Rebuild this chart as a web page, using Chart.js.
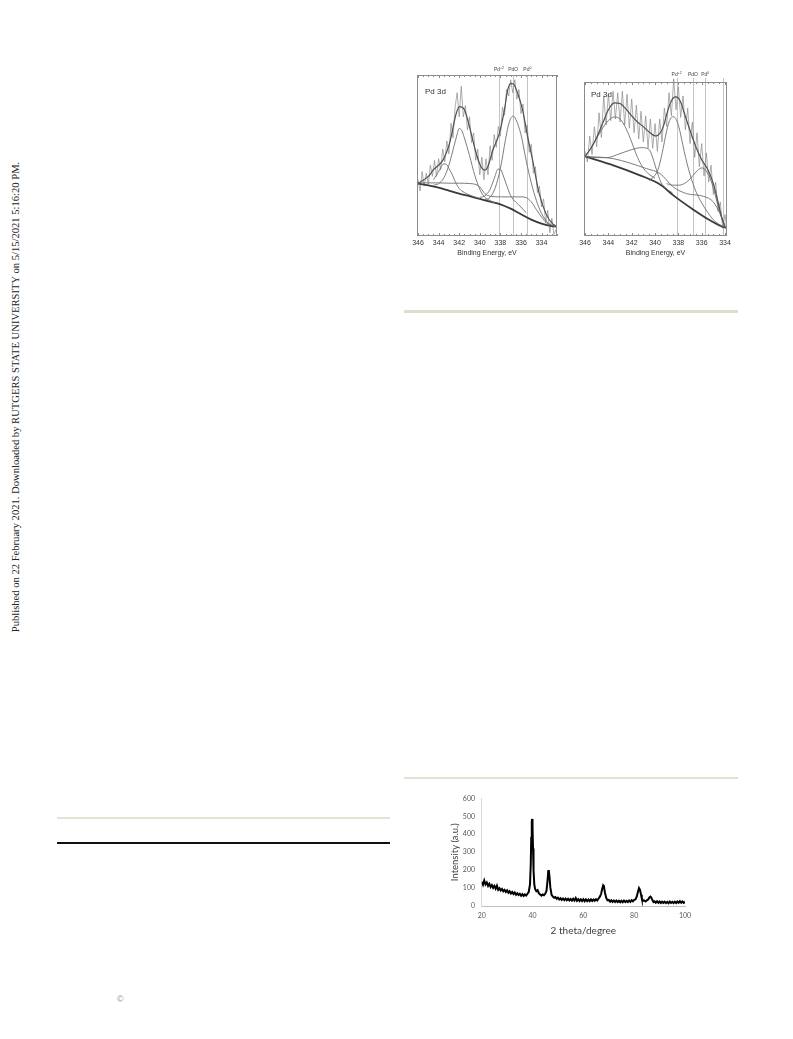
<!DOCTYPE html>
<html><head><meta charset="utf-8">
<script src="https://cdn.jsdelivr.net/npm/chart.js@4.4.0/dist/chart.umd.min.js"></script>
<style>
html,body{margin:0;padding:0;background:#fff;}
body{width:793px;height:1039px;position:relative;overflow:hidden;}
canvas{position:absolute;}
.rule{position:absolute;}
#side{position:absolute;left:15px;top:397px;transform:translate(-50%,-50%) rotate(-90deg);white-space:nowrap;font-family:"Liberation Serif","Times New Roman",serif;font-size:10.6px;color:#222;}
#copy{position:absolute;left:117px;top:994px;font-family:"Liberation Sans",Arial,sans-serif;font-size:9px;color:#999;}
</style></head>
<body>
<div id="side">Published on 22 February 2021. Downloaded by RUTGERS STATE UNIVERSITY on 5/15/2021 5:16:20 PM.</div>
<div class="rule" style="left:404px;top:310px;width:334px;height:2.5px;background:#e0decb"></div>
<div class="rule" style="left:404px;top:776.5px;width:334px;height:2.5px;background:#e3e1cf"></div>
<div class="rule" style="left:57px;top:816.7px;width:333px;height:2.6px;background:#e6e3d2"></div>
<div class="rule" style="left:57px;top:841.7px;width:333px;height:2px;background:#111"></div>
<div id="copy">©</div>
<canvas id="xps1" width="170" height="198" style="left:400px;top:60px"></canvas>
<canvas id="xps2" width="170" height="198" style="left:570px;top:60px"></canvas>
<canvas id="xrd" width="260" height="160" style="left:440px;top:785px"></canvas>
<script>
// ---------- shared ----------
const xpsTicks = [346, 344, 342, 340, 338, 336, 334];
const refLabelMain = ['Pd', 'PdO', 'Pd'];
const refLabelSup = ['+2', '', '0'];

// ---------- XPS panel 1 ----------
const xps1RawBE = [346.0,345.8,345.6,345.4,345.2,345.0,344.8,344.6,344.4,344.2,344.0,343.8,343.6,343.4,343.2,343.0,342.8,342.6,342.4,342.2,342.0,341.8,341.6,341.4,341.2,341.0,340.8,340.6,340.4,340.2,340.0,339.8,339.6,339.4,339.2,339.0,338.8,338.6,338.4,338.2,338.0,337.8,337.6,337.4,337.2,337.0,336.8,336.6,336.4,336.2,336.0,335.8,335.6,335.4,335.2,335.0,334.8,334.6,334.4,334.2,334.0,333.8,333.6,333.4,333.2,333.0,332.8,332.6];
const xps1RawI = [35,28,40,31,39,32,44,37,47,37,48,41,54,46,59,51,70,61,80,89,74,93,74,81,66,74,58,64,47,54,38,49,35,48,38,56,47,63,55,68,62,80,75,91,87,97,89,97,85,91,76,82,64,69,52,57,39,43,27,31,18,23,8,16,2,11,1,4];
const xps1EnvBE = [346.0,344.87,344.55,343.58,342.94,342.29,341.97,341.48,341.0,340.52,340.03,339.55,339.23,338.74,338.1,337.61,337.29,336.97,336.65,336.32,335.84,335.35,334.87,334.23,333.58,332.94,332.61];
const xps1EnvI = [32.6,37.8,40.9,47.1,57.5,76.1,80.3,78.2,67.8,55.4,45.0,40.9,42.9,53.3,63.7,78.2,90.7,94.8,93.8,88.6,78.2,61.6,47.1,26.3,13.9,7.7,6.2];
const xps1BgBE = [346,345,344,343,342,341,340,339,338,337,336,335,334,333,332.6];
const xps1BgI = [32.6,31.5,30.1,28.2,26.3,24.7,23.0,21.4,19.7,17.0,13.5,10.2,7.7,6.2,5.8];
const xps1StepBE = [346,345,344,343,342,341,340.5,340,339.5,339,338,337,336,335.5,335,334.5,334,333.5,333,332.6];
const xps1StepI = [33.0,33.0,33.0,32.8,32.8,32.6,32.2,30.5,26.3,24.7,24.3,24.3,24.3,23.9,21.2,16.4,11.8,8.1,6.6,6.0];
const xps1P1BE = [344.5,344.25,344.0,343.75,343.5,343.25,343.0,342.75,342.5,342.25,342.0,341.5,341.0,340.5,340.0];
const xps1P1I = [35,37.5,40,43,44.8,44.5,42,39,35.5,32,29.5,27,25.5,24.3,23.3];
const xps1P2BE = [344.5,344,343.5,343,342.5,342.25,342,341.75,341.5,341,340.5,340,339.5,339,338.5];
const xps1P2I = [31.5,32.5,36,44,56,62,66.8,65.5,61,50,38,29,24,22,20.5];
const xps1P3BE = [340,339.5,339,338.75,338.5,338.25,338,337.75,337.5,337.25,337,336.5,336,335.5];
const xps1P3I = [24,25,29,33,37.5,41.5,41.5,38,33.5,29,25,21,18,14.5];
const xps1P4BE = [339.5,339,338.5,338,337.5,337.25,337,336.75,336.5,336,335.5,335,334.5,334,333.5,333];
const xps1P4I = [22.5,24,30,42,60,68,73,74.5,72.5,63,47,33,22,14,9,6.6];
const xps1RefBE = [338.14, 336.75, 335.38];

// ---------- XPS panel 2 ----------
const xps2RawBE = [346.0,345.8,345.6,345.4,345.2,345.0,344.8,344.6,344.4,344.2,344.0,343.8,343.6,343.4,343.2,343.0,342.8,342.6,342.4,342.2,342.0,341.8,341.6,341.4,341.2,341.0,340.8,340.6,340.4,340.2,340.0,339.8,339.6,339.4,339.2,339.0,338.8,338.6,338.4,338.2,338.0,337.8,337.6,337.4,337.2,337.0,336.8,336.6,336.4,336.2,336.0,335.8,335.6,335.4,335.2,335.0,334.8,334.6,334.4,334.2,334.0,333.8];
const xps2RawI = [55,48,65,53,71,58,80,64,91,72,92,75,94,76,93,74,94,72,92,70,89,67,85,63,81,61,78,57,76,57,73,55,76,61,83,71,93,78,102,82,97,77,91,69,83,60,74,51,67,45,60,39,54,35,46,27,35,16,22,5,14,2];
const xps2EnvBE = [346,345.5,345,344.5,344,343.5,343,342.5,342,341.5,341,340.5,340,339.75,339.5,339.25,339,338.75,338.5,338.25,338,337.75,337.5,337,336.5,336,335.5,335,334.5,334.25,334,333.85];
const xps2EnvI = [51.7,57,64,73,82,86.5,86,82.5,78,74,71,67.5,65,65.5,67.5,72,79,85,89,90.3,89.5,86,80,68.5,58,49.5,43.5,34,19,11,6,5.4];
const xps2BgBE = [346,343.57,341.29,339.57,338.43,336.71,335.29,334.14,333.85];
const xps2BgI = [51.7,45.9,39.4,33.5,26.4,17.1,10.2,5.8,5.4];
const xps2Base2BE = [346,343.57,340.71,339.57,338.43,337.29,335.86,335.0,334.43,334.0];
const xps2Base2I = [51.7,50.2,43.7,40.5,31.8,27.5,25.8,22.1,14.5,6.9];
const xps2C1BE = [346,345.5,345,344.5,344,343.5,343,342.5,342,341.5,341,340.5,340];
const xps2C1I = [51.7,57,63.5,70,75,77.3,76,70,61,51,44,40,37.5];
const xps2C2BE = [346,345,344.14,343,342,341.14,340.5,340.25,340,339.75,339.5,339,338.5];
const xps2C2I = [51.7,50.9,50.9,53.5,56.1,57.4,56,52,46,40,35,30.5,28];
const xps2C3BE = [340.5,340,339.75,339.5,339.25,339,338.75,338.5,338.25,338,337.75,337.5,337.25,337,336.5,336,335.5,335,334.5,334];
const xps2C3I = [36,39.5,43,50,59,68.5,75,77.5,76.5,72,64,55,47,40,29,21.5,15.5,10.5,7.5,5.5];
const xps2C4BE = [339,338.5,338,337.5,337,336.5,336,335.75,335.5,335.25,335,334.75,334.5,334.25,334];
const xps2C4I = [34,33,33,34,37,41.5,44.2,43.5,41,37,31,24,17,11,6.5];
const xps2RefBE = [338.15, 336.75, 335.7, 334.15];

// ---------- XRD ----------
const xrdAngle = [20,20.5,21,21.5,22,22.5,23,23.5,24,24.5,25,25.5,26,26.5,27,27.5,28,28.5,29,29.5,30,30.5,31,31.5,32,32.5,33,33.5,34,34.5,35,35.5,36,36.5,37,37.5,38,
38.5,39,39.3,39.5,39.7,39.85,40.0,40.2,40.4,40.7,41,41.5,42,42.5,43,43.5,44,44.5,45,45.5,45.9,46.2,46.4,46.7,47,47.5,48,48.5,49,49.5,50,50.5,51,51.5,52,52.5,53,53.5,54,54.5,55,55.5,56,56.5,57,57.5,58,58.5,59,59.5,60,60.5,61,61.5,62,62.5,63,63.5,64,64.5,65,65.5,66,66.5,67,67.4,67.8,68.1,68.5,69,69.5,70,70.5,71,71.5,72,72.5,73,73.5,74,74.5,75,75.5,76,76.5,77,77.5,78,78.5,79,79.5,80,80.5,81,81.5,81.9,82.3,82.7,83,83.5,84,84.5,85,85.5,86,86.4,86.8,87.2,87.6,88,88.5,89,89.5,90,90.5,91,91.5,92,92.5,93,93.5,94,94.5,95,95.5,96,96.5,97,97.5,98,98.5,99,99.5,100];
const xrdIntensity = [135,118,142,120,131,112,124,106,117,101,112,96,113,90,99,86,95,82,90,78,87,74,82,70,78,67,75,63,71,61,68,57,66,56,64,58,68,
78,120,230,380,470,485,440,320,200,120,95,82,88,70,64,58,64,60,68,85,140,195,200,160,105,62,52,46,50,40,46,36,43,34,42,33,41,32,40,31,39,30,40,30,44,29,38,28,37,28,38,27,37,27,36,27,37,28,36,29,38,31,42,52,68,95,115,108,75,45,32,34,24,32,23,31,22,30,22,29,21,29,21,30,22,29,22,31,23,32,26,34,36,52,80,100,90,62,42,30,31,25,32,36,48,52,46,32,22,26,18,26,18,25,17,24,17,24,16,23,16,25,17,23,16,24,17,25,18,27,18,25,17,23];

// ---------- helpers ----------
Chart.defaults.animation = false;
Chart.defaults.font.family = '"Liberation Sans", Arial, sans-serif';

function series(xs, ys, color, width, smooth, extra) {
  return Object.assign({
    data: xs.map((x, i) => ({ x: x, y: ys[i] })),
    borderColor: color, borderWidth: width, pointRadius: 0, fill: false,
    tension: 0, cubicInterpolationMode: smooth ? 'monotone' : 'default'
  }, extra || {});
}

const xpsDecor = {
  id: 'xpsDecor',
  beforeDatasetsDraw(chart, args, o) {
    const { ctx, chartArea: a, scales: { x } } = chart;
    ctx.save();
    ctx.strokeStyle = '#c4c4c4'; ctx.lineWidth = 1;
    o.refs.forEach(v => {
      const px = Math.round(x.getPixelForValue(v)) + 0.5;
      ctx.beginPath(); ctx.moveTo(px, a.top - o.refExtend); ctx.lineTo(px, a.bottom); ctx.stroke();
    });
    ctx.restore();
  },
  afterDatasetsDraw(chart, args, o) {
    const { ctx, chartArea: a, scales: { x } } = chart;
    ctx.save();
    ctx.strokeStyle = '#8c8c8c'; ctx.lineWidth = 1;
    ctx.strokeRect(a.left + 0.5, a.top + 0.5, a.width - 1, a.height - 1);
    ctx.beginPath();
    for (let v = Math.ceil(x.min / 0.5) * 0.5; v <= x.max + 1e-9; v += 0.5) {
      const px = Math.round(x.getPixelForValue(v)) + 0.5;
      const len = (Math.abs(v - Math.round(v / 2) * 2) < 1e-6) ? 3 : 2;
      ctx.moveTo(px, a.bottom); ctx.lineTo(px, a.bottom - len);
      ctx.moveTo(px, a.top); ctx.lineTo(px, a.top + len);
    }
    ctx.stroke();
    ctx.fillStyle = '#444';
    ctx.textBaseline = 'alphabetic';
    o.refs.slice(0, 3).forEach((v, i) => {
      const px = x.getPixelForValue(v);
      ctx.font = '5px "Liberation Sans", Arial, sans-serif';
      const w1 = ctx.measureText(refLabelMain[i]).width;
      ctx.font = '3.5px "Liberation Sans", Arial, sans-serif';
      const w2 = ctx.measureText(refLabelSup[i]).width;
      const start = px - (w1 + w2) / 2;
      ctx.font = '5px "Liberation Sans", Arial, sans-serif';
      ctx.textAlign = 'left';
      ctx.fillText(refLabelMain[i], start, a.top - o.labelGap);
      ctx.font = '3.5px "Liberation Sans", Arial, sans-serif';
      ctx.fillText(refLabelSup[i], start + w1, a.top - o.labelGap - 2);
    });
    ctx.fillStyle = '#333';
    ctx.font = '8px "Liberation Sans", Arial, sans-serif';
    ctx.textAlign = 'left'; ctx.textBaseline = 'middle';
    ctx.fillText('Pd 3d', a.left + o.titleDx, a.top + o.titleDy);
    ctx.restore();
  }
};

function xpsOptions(minBE, maxBE, pad, decor) {
  return {
    responsive: false, devicePixelRatio: 1, animation: false,
    layout: { padding: pad },
    plugins: { legend: { display: false }, tooltip: { enabled: false }, xpsDecor: decor },
    scales: {
      x: {
        type: 'linear', reverse: true, min: minBE, max: maxBE,
        afterBuildTicks: s => { s.ticks = xpsTicks.map(v => ({ value: v })); },
        afterFit: s => { s.height = 22; },
        grid: { display: false, drawTicks: false }, border: { display: false },
        ticks: { font: { size: 7 }, color: '#333', padding: 2.5, maxRotation: 0, autoSkip: false },
        title: { display: true, text: 'Binding Energy, eV', font: { size: 7 }, color: '#333', padding: { top: 0, bottom: 0.8 } }
      },
      y: { display: false, min: 0, max: 100 }
    }
  };
}

const compColor = '#6e6e6e';
new Chart(document.getElementById('xps1'), {
  type: 'line',
  data: { datasets: [
    series(xps1EnvBE, xps1EnvI, '#505050', 1.2, true),
    series(xps1P1BE, xps1P1I, compColor, 0.9, true),
    series(xps1P2BE, xps1P2I, compColor, 0.9, true),
    series(xps1P3BE, xps1P3I, compColor, 0.9, true),
    series(xps1P4BE, xps1P4I, compColor, 0.9, true),
    series(xps1StepBE, xps1StepI, compColor, 0.9, true),
    series(xps1BgBE, xps1BgI, '#3a3a3a', 1.8, true),
    series(xps1RawBE, xps1RawI, '#8a8a8a', 0.7, false)
  ] },
  options: xpsOptions(332.5, 346.1, { left: 17, right: 13, top: 15, bottom: 0 },
    { refs: xps1RefBE, refExtend: 0, labelGap: 4, titleDx: 8, titleDy: 17 }),
  plugins: [xpsDecor]
});

new Chart(document.getElementById('xps2'), {
  type: 'line',
  data: { datasets: [
    series(xps2EnvBE, xps2EnvI, '#505050', 1.2, true),
    series(xps2C1BE, xps2C1I, compColor, 0.9, true),
    series(xps2C2BE, xps2C2I, compColor, 0.9, true),
    series(xps2C3BE, xps2C3I, compColor, 0.9, true),
    series(xps2C4BE, xps2C4I, compColor, 0.9, true),
    series(xps2Base2BE, xps2Base2I, compColor, 0.9, true),
    series(xps2BgBE, xps2BgI, '#3a3a3a', 1.8, true),
    series(xps2RawBE, xps2RawI, '#8a8a8a', 0.7, false, { clip: { left: 0, right: 0, bottom: 0, top: 8 } })
  ] },
  options: xpsOptions(333.83, 346.09, { left: 14, right: 13, top: 22, bottom: 0 },
    { refs: xps2RefBE, refExtend: 4, labelGap: 6, titleDx: 7, titleDy: 13 }),
  plugins: [xpsDecor]
});

new Chart(document.getElementById('xrd'), {
  type: 'line',
  data: { datasets: [ series(xrdAngle, xrdIntensity, '#000', 2, false) ] },
  options: {
    responsive: false, devicePixelRatio: 1, animation: false,
    layout: { padding: { left: 0, right: 15, top: 13.3, bottom: 0 } },
    plugins: { legend: { display: false }, tooltip: { enabled: false } },
    scales: {
      x: {
        type: 'linear', min: 20, max: 100,
        ticks: { stepSize: 20, font: { family: 'Lato', size: 7 }, color: '#595959', padding: 5.5, maxRotation: 0 },
        grid: { display: false, drawTicks: false }, border: { display: true, color: '#bfbfbf', width: 1 },
        title: { display: true, text: '2 theta/degree', font: { family: 'Lato', size: 10 }, color: '#404040', padding: { top: 0, bottom: 8.3 } },
        afterFit: s => { s.height = 39; }
      },
      y: {
        min: 0, max: 600,
        ticks: { stepSize: 100, font: { family: 'Lato', size: 7 }, color: '#595959', padding: 6.7 },
        grid: { display: false, drawTicks: false }, border: { display: true, color: '#d9d9d9', width: 1 },
        title: { display: true, text: 'Intensity (a.u.)', font: { family: 'Lato', size: 9.5 }, color: '#404040', padding: { top: 9.3, bottom: 0 } },
        afterFit: s => { s.width = 41.7; }
      }
    }
  }
});
</script>
</body></html>
